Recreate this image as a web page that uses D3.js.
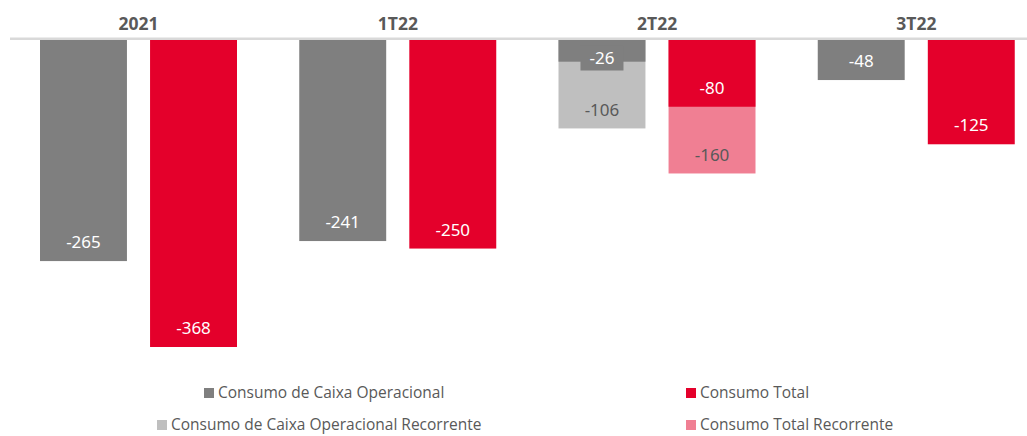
<!DOCTYPE html>
<html>
<head>
<meta charset="utf-8">
<script src="https://cdn.jsdelivr.net/npm/d3@7"></script>
<style>
  body { margin: 0; background: #fff; }
  svg { display: block; }
</style>
</head>
<body>
<svg id="chart" width="1027" height="436"></svg>
<script>
// values (R$ mi)
let categories = ["2021", "1T22", "2T22", "3T22"];
let caixaOp = [-265, -241, -26, -48];
let caixaOpRec = [null, null, -106, null];
let consumoTotal = [-368, -250, -80, -125];
let consumoTotalRec = [null, null, -160, null];

let legendNames = [
  "Consumo de Caixa Operacional",
  "Consumo Total",
  "Consumo de Caixa Operacional Recorrente",
  "Consumo Total Recorrente"
];

let colors = {
  op: "#7f7f7f",
  opRec: "#bfbfbf",
  total: "#e4002b",
  totalRec: "#f07f93"
};

let svg = d3.select("#chart");

let x = d3.scaleBand().domain(categories).range([9, 1046]).paddingInner(0);
let xi = d3.scaleBand().domain(["op", "total"]).range([31, 228]).paddingInner(0.21);
let y = d3.scaleLinear().domain([0, -368]).range([40, 347]);

// baseline
svg.append("rect")
  .attr("x", 10).attr("y", 37.5)
  .attr("width", 1017).attr("height", 2.5)
  .attr("fill", "#d9d9d9");

// category labels
svg.selectAll(".cat")
  .data(categories)
  .enter()
  .append("text")
  .attr("class", "cat")
  .attr("x", (d) => x(d) + x.bandwidth() / 2)
  .attr("y", 30)
  .attr("text-anchor", "middle")
  .attr("font-family", "'Noto Sans', sans-serif")
  .attr("font-weight", "bold")
  .attr("font-size", 17.5)
  .attr("fill", "#595959")
  .text((d) => d);

// build bar rows: recurring ones first so the main bar sits on top
let bars = [];
categories.forEach((c, i) => {
  if (caixaOpRec[i] != null) bars.push({ cat: c, key: "op", color: colors.opRec, v: caixaOpRec[i], txt: "#595959" });
  if (consumoTotalRec[i] != null) bars.push({ cat: c, key: "total", color: colors.totalRec, v: consumoTotalRec[i], txt: "#595959" });
  bars.push({ cat: c, key: "op", color: colors.op, v: caixaOp[i], txt: "#fff" });
  bars.push({ cat: c, key: "total", color: colors.total, v: consumoTotal[i], txt: "#fff" });
});

svg.selectAll(".bar")
  .data(bars)
  .enter()
  .append("rect")
  .attr("class", "bar")
  .attr("x", (d) => x(d.cat) + xi(d.key))
  .attr("y", y(0))
  .attr("width", xi.bandwidth())
  .attr("height", (d) => y(d.v) - y(0))
  .attr("fill", (d) => d.color);

// value labels
let labels = svg.selectAll(".lbl")
  .data(bars)
  .enter()
  .append("g")
  .attr("class", "lbl")
  .attr("transform", (d) => {
    let cy = Math.max(y(d.v) - 19, y(0) + 18);
    return "translate(" + (x(d.cat) + xi(d.key) + xi.bandwidth() / 2) + "," + cy + ")";
  });

labels.each(function (d) {
  let g = d3.select(this);
  let cy = Math.max(y(d.v) - 19, y(0) + 18);
  if (cy + 10 > y(d.v)) {
    // label sticks out of a short bar: give it a box in the bar colour
    g.append("rect")
      .attr("x", -21.5).attr("y", -12.5)
      .attr("width", 43).attr("height", 25)
      .attr("fill", d.color);
  }
  g.append("text")
    .attr("text-anchor", "middle")
    .attr("dy", "0.36em")
    .attr("font-family", "'Noto Sans', sans-serif")
    .attr("font-size", 17)
    .attr("fill", d.txt)
    .text(d3.format("d")(d.v).replace("−", "-"));
});

// legend
let legendItems = [
  { name: legendNames[0], color: colors.op, sx: 204, tx: 218, y: 393 },
  { name: legendNames[1], color: colors.total, sx: 686, tx: 700, y: 393 },
  { name: legendNames[2], color: colors.opRec, sx: 157, tx: 171, y: 425 },
  { name: legendNames[3], color: colors.totalRec, sx: 686, tx: 700, y: 425 }
];

let leg = svg.selectAll(".leg")
  .data(legendItems)
  .enter()
  .append("g")
  .attr("class", "leg");

leg.append("rect")
  .attr("x", (d) => d.sx)
  .attr("y", (d) => d.y - 5)
  .attr("width", 10)
  .attr("height", 10)
  .attr("fill", (d) => d.color);

leg.append("text")
  .attr("x", (d) => d.tx)
  .attr("y", (d) => d.y)
  .attr("dy", "0.35em")
  .attr("font-family", "'Open Sans', 'Noto Sans', sans-serif")
  .attr("font-size", 15.5)
  .attr("fill", "#595959")
  .text((d) => d.name);
</script>
</body>
</html>
